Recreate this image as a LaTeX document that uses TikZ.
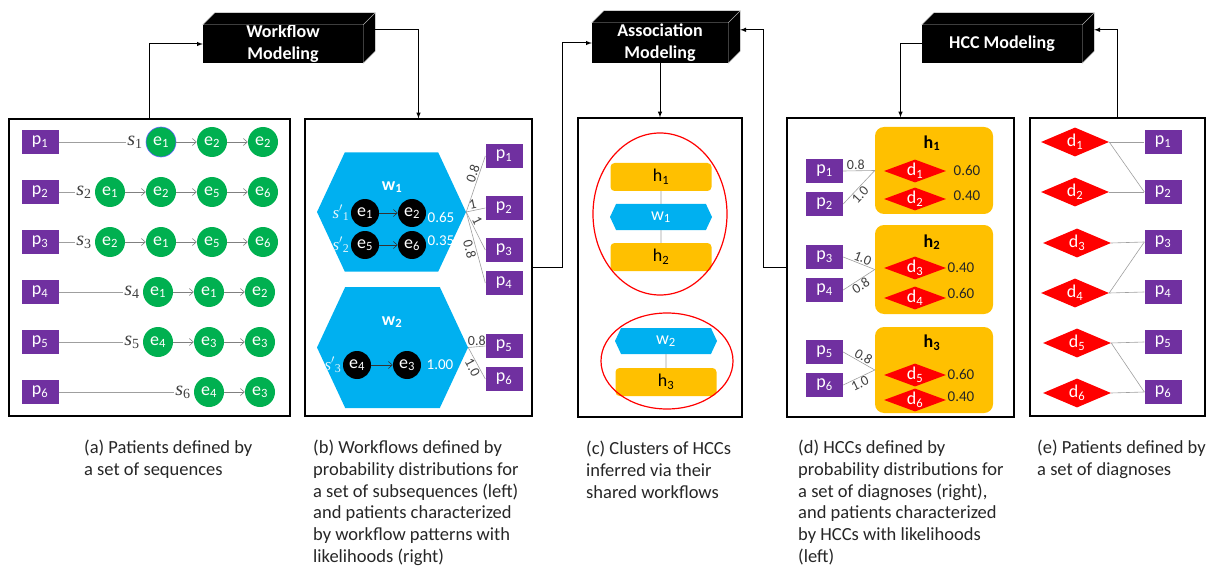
\documentclass[tikz,border=0pt]{standalone}
\usepackage{fontspec}
\setmainfont{Carlito}
\newfontfamily\seqfont{Liberation Serif}
\usepackage{tikz}
\usetikzlibrary{calc,positioning,shapes.geometric,shapes.symbols,arrows.meta}
\definecolor{ptpurple}{RGB}{112,48,160}
\definecolor{evgreen}{RGB}{0,176,80}
\definecolor{wfcyan}{RGB}{0,176,240}
\definecolor{hccgold}{RGB}{255,192,0}
\definecolor{dxred}{RGB}{255,0,0}
\definecolor{txtgray}{RGB}{64,64,64}
\newcommand{\pxfont}[1]{\fontsize{#1}{#1}\selectfont}
\newcommand{\seqname}[2]{{\seqfont\itshape #1}\textsubscript{\seqfont #2}}
\tikzset{
panel/.style={draw, line width=1.2pt, inner sep=0pt}, % the five framed panels
modelbox/.style={fill=black, text=white, minimum width=160pt, minimum height=38pt,
  inner sep=0pt, align=center, font=\fontsize{18}{22}\selectfont\bfseries},
conn/.style={->, line width=1pt},
patient/.style={fill=ptpurple, text=white, minimum width=37pt, minimum height=24pt,
  inner sep=0pt, font=\pxfont{18}},
event/.style={circle, fill=evgreen, text=white, minimum size=30pt, inner sep=0pt, font=\pxfont{18}},
subevent/.style={circle, fill=black, text=white, minimum size=28pt, inner sep=0pt, font=\pxfont{18}},
seqlabel/.style={text=txtgray, inner sep=1pt, font=\pxfont{20}},
link/.style={draw=gray!75, line width=0.6pt},
evarrow/.style={-{Straight Barb[length=4pt,width=7pt]}, draw=gray, line width=0.6pt},
subarrow/.style={-{Straight Barb[length=4pt,width=7pt]}, draw=black!80, line width=0.6pt},
flow/.style={signal, signal to=east and west, signal pointer angle=130, fill=wfcyan, inner sep=0pt},
hccbox/.style={rounded corners=9pt, fill=hccgold, inner sep=0pt, minimum width=118pt},
smallhcc/.style={rounded corners=4pt, fill=hccgold, inner sep=0pt, minimum width=101pt,
  minimum height=28pt, font=\pxfont{18}},
diag/.style={diamond, aspect=2.7, fill=dxred, text=white, inner sep=0pt, font=\pxfont{18}},
cluster/.style={ellipse, draw=dxred, line width=1.2pt},
prob/.style={text=txtgray, inner sep=1pt, font=\pxfont{14}},
caption/.style={anchor=north west, align=left, inner sep=0pt, text=black!85,
  font=\fontsize{18.5}{21.7}\selectfont}
}

\begin{document}
\begin{tikzpicture}[x=1pt,y=-1pt,node distance=51pt,on grid,>=latex]
\useasboundingbox (0,0) rectangle (1223,572);

% modeling steps
\node[modelbox] (wfm) at (283,44) {Workflow\\Modeling};
\node[modelbox, minimum width=136pt, minimum height=40pt] (asm) at (660,43) {Association\\Modeling};
\node[modelbox] (hcm) at (1002,44) {HCC Modeling};
\foreach \m in {wfm,asm,hcm}{
  \filldraw[fill=black, draw=gray!60, line width=0.4pt]
    (\m.north west) -- ++(12,-12) -- ($(\m.north east)+(12,-12)$) -- (\m.north east) -- cycle
    (\m.north east) -- ($(\m.north east)+(12,-12)$) -- ($(\m.south east)+(12,-12)$) -- (\m.south east) -- cycle;
}

% panels
\node[panel, minimum width=281pt, minimum height=297pt] (pa) at (149.5,267.5) {};
\node[panel, minimum width=227pt, minimum height=297pt] (pb) at (418.5,267.5) {};
\node[panel, minimum width=164pt, minimum height=299pt] (pc) at (660,267.5) {};
\node[panel, minimum width=227pt, minimum height=299pt] (pd) at (900.5,267.5) {};
\node[panel, minimum width=175pt, minimum height=298pt] (pe) at (1117.5,267) {};

\draw[conn] (pa.north) |- (wfm.west);
\draw[conn] ($(wfm.north east)+(12,5)$) -| (pb.north);
\draw[conn] (pb.east) -- ++(30,0) |- (asm.west);
\draw[conn] (pd.west) -- ++(-23,0) |- ($(asm.north east)+(12,7)$);
\draw[conn] (asm.south) -- (pc.north);
\draw[conn] (hcm.west) -| (pd.north);
\draw[conn] (pe.north) |- ($(hcm.north east)+(12,5)$);

% (a) patients and their sequences
\node[patient] (pa1) at (40,142) {p\textsubscript{1}};
\node[patient] (pa2) at (40,192) {p\textsubscript{2}};
\node[patient] (pa3) at (40,242) {p\textsubscript{3}};
\node[patient] (pa4) at (40,292) {p\textsubscript{4}};
\node[patient] (pa5) at (40,342) {p\textsubscript{5}};
\node[patient] (pa6) at (40,392) {p\textsubscript{6}};

\node[event, draw=blue!60, line width=0.6pt] (ea11) at (161,142) {e\textsubscript{1}};
\node[event] (ea12) [right=of ea11] {e\textsubscript{2}};
\node[event] (ea13) [right=of ea12] {e\textsubscript{2}};
\node[event] (ea21) at (110,192) {e\textsubscript{1}};
\node[event] (ea22) [right=of ea21] {e\textsubscript{2}};
\node[event] (ea23) [right=of ea22] {e\textsubscript{5}};
\node[event] (ea24) [right=of ea23] {e\textsubscript{6}};
\node[event] (ea31) at (110,242) {e\textsubscript{2}};
\node[event] (ea32) [right=of ea31] {e\textsubscript{1}};
\node[event] (ea33) [right=of ea32] {e\textsubscript{5}};
\node[event] (ea34) [right=of ea33] {e\textsubscript{6}};
\node[event] (ea41) at (158,292) {e\textsubscript{1}};
\node[event] (ea42) [right=of ea41] {e\textsubscript{1}};
\node[event] (ea43) [right=of ea42] {e\textsubscript{2}};
\node[event] (ea51) at (158,342) {e\textsubscript{4}};
\node[event] (ea52) [right=of ea51] {e\textsubscript{3}};
\node[event] (ea53) [right=of ea52] {e\textsubscript{3}};
\node[event] (ea61) at (209,392) {e\textsubscript{4}};
\node[event] (ea62) [right=of ea61] {e\textsubscript{3}};

\node[seqlabel] (sa1) [left=26pt of ea11] {\seqname{s}{1}};
\node[seqlabel] (sa2) [left=26pt of ea21] {\seqname{s}{2}};
\node[seqlabel] (sa3) [left=26pt of ea31] {\seqname{s}{3}};
\node[seqlabel] (sa4) [left=26pt of ea41] {\seqname{s}{4}};
\node[seqlabel] (sa5) [left=26pt of ea51] {\seqname{s}{5}};
\node[seqlabel] (sa6) [left=26pt of ea61] {\seqname{s}{6}};

\path[link] (pa1) edge (sa1) (pa2) edge (sa2) (pa3) edge (sa3)
            (pa4) edge (sa4) (pa5) edge (sa5) (pa6) edge (sa6);
\path[evarrow]
  (ea11) edge (ea12) (ea12) edge (ea13)
  (ea21) edge (ea22) (ea22) edge (ea23) (ea23) edge (ea24)
  (ea31) edge (ea32) (ea32) edge (ea33) (ea33) edge (ea34)
  (ea41) edge (ea42) (ea42) edge (ea43)
  (ea51) edge (ea52) (ea52) edge (ea53)
  (ea61) edge (ea62);

% (b) workflows
\node[flow, minimum width=149pt, minimum height=119pt] (w1) at (391.5,212) {};
\node[flow, minimum width=151pt, minimum height=121pt] (w2) at (392.5,347.5) {};
\node[text=white, font=\pxfont{18}\bfseries] (w1t) at (392,187) {w\textsubscript{1}};
\node[text=white, font=\pxfont{18}\bfseries] (w2t) at (392,322) {w\textsubscript{2}};
\node[subevent] (eb11) at (365,213) {e\textsubscript{1}};
\node[subevent] (eb12) at (412,213) {e\textsubscript{2}};
\node[subevent] (eb21) at (365,245) {e\textsubscript{5}};
\node[subevent] (eb22) at (412,245) {e\textsubscript{6}};
\node[subevent] (eb31) at (357,365) {e\textsubscript{4}};
\node[subevent] (eb32) at (407,365) {e\textsubscript{3}};
\node[seqlabel, text=white!90!wfcyan, font=\pxfont{17}] (sb1) at (341,213) {\seqname{s$'$}{1}};
\node[seqlabel, text=white!90!wfcyan, font=\pxfont{17}] (sb2) at (341,245) {\seqname{s$'$}{2}};
\node[seqlabel, text=white!90!wfcyan, font=\pxfont{17}] (sb3) at (333,365) {\seqname{s$'$}{3}};
\node[prob, text=white, font=\pxfont{15}] (qb1) at (441,217) {0.65};
\node[prob, text=white, font=\pxfont{15}] (qb2) at (441,241) {0.35};
\node[prob, text=white, font=\pxfont{15}] (qb3) at (440,365) {1.00};
\path[subarrow] (eb11) edge (eb12) (eb21) edge (eb22) (eb31) edge (eb32);

\node[patient] (pb1) at (504,156) {p\textsubscript{1}};
\node[patient] (pb2) at (504,208) {p\textsubscript{2}};
\node[patient] (pb3) at (504,250) {p\textsubscript{3}};
\node[patient] (pb4) at (504,283) {p\textsubscript{4}};
\node[patient] (pb5) at (504,346) {p\textsubscript{5}};
\node[patient] (pb6) at (504,379) {p\textsubscript{6}};
\draw[link] (w1.east) -- node[prob, sloped, above, pos=0.65] (lb1) {0.8} (pb1.west);
\draw[link] (w1.east) -- node[prob, sloped, above, pos=0.4] (lb2) {1} (pb2.west);
\draw[link] (w1.east) -- node[prob, sloped, above, pos=0.3] (lb3) {1} (pb3.west);
\draw[link] (w1.east) -- node[prob, sloped, below, pos=0.5] (lb4) {0.8} (pb4.west);
\draw[link] (w2.east) -- node[prob, above, pos=0.5] (lb5) {0.8} (pb5.west);
\draw[link] (w2.east) -- node[prob, sloped, below, pos=0.55] (lb6) {1.0} (pb6.west);

% (c) clusters of HCCs
\node[smallhcc] (ch1) at (661,177) {h\textsubscript{1}};
\node[flow, minimum width=102pt, minimum height=26pt, text=white, font=\pxfont{18}] (cw1) at (661,217) {w\textsubscript{1}};
\node[smallhcc] (ch2) at (661,257) {h\textsubscript{2}};
\node[flow, minimum width=102pt, minimum height=26pt, text=white, font=\pxfont{18}] (cw2) at (666,341) {w\textsubscript{2}};
\node[smallhcc] (ch3) at (666,382) {h\textsubscript{3}};
\path[link] (ch1) edge (cw1) (cw1) edge (ch2) (cw2) edge (ch3);
\node[cluster, minimum width=134pt, minimum height=162pt] (cl1) at (660,214) {};
\node[cluster, minimum width=132pt, minimum height=96pt] (cl2) at (667,361) {};

% (d) HCCs
\node[hccbox, minimum height=87pt] (hb1) at (934,170.5) {};
\node[hccbox, minimum height=89pt] (hb2) at (934,269.5) {};
\node[hccbox, minimum height=86pt] (hb3) at (934,370) {};
\node[font=\pxfont{18}\bfseries] (hb1t) at (932,143) {h\textsubscript{1}};
\node[font=\pxfont{18}\bfseries] (hb2t) at (932,242) {h\textsubscript{2}};
\node[font=\pxfont{18}\bfseries] (hb3t) at (932,343) {h\textsubscript{3}};
\node[diag, minimum width=62pt, minimum height=23pt] (dd1) at (915,171) {d\textsubscript{1}};
\node[diag, minimum width=62pt, minimum height=23pt] (dd2) at (915,199) {d\textsubscript{2}};
\node[diag, minimum width=62pt, minimum height=23pt] (dd3) at (915,268) {d\textsubscript{3}};
\node[diag, minimum width=62pt, minimum height=23pt] (dd4) at (915,298) {d\textsubscript{4}};
\node[diag, minimum width=62pt, minimum height=23pt] (dd5) at (915,375) {d\textsubscript{5}};
\node[diag, minimum width=62pt, minimum height=23pt] (dd6) at (915,400) {d\textsubscript{6}};
\node[prob, text=black!85, font=\pxfont{15}] (qd1) at (967,170) {0.60};
\node[prob, text=black!85, font=\pxfont{15}] (qd2) at (967,196) {0.40};
\node[prob, text=black!85, font=\pxfont{15}] (qd3) at (961,268) {0.40};
\node[prob, text=black!85, font=\pxfont{15}] (qd4) at (961,293) {0.60};
\node[prob, text=black!85, font=\pxfont{15}] (qd5) at (961,374) {0.60};
\node[prob, text=black!85, font=\pxfont{15}] (qd6) at (961,397) {0.40};

\node[patient] (pd1) at (824.5,171) {p\textsubscript{1}};
\node[patient] (pd2) at (824.5,204) {p\textsubscript{2}};
\node[patient] (pd3) at (824.5,257) {p\textsubscript{3}};
\node[patient] (pd4) at (824.5,290) {p\textsubscript{4}};
\node[patient] (pd5) at (824.5,352) {p\textsubscript{5}};
\node[patient] (pd6) at (824.5,385) {p\textsubscript{6}};
\draw[link] (pd1.east) -- node[prob, above, pos=0.4] (ld1) {0.8} (hb1.west);
\draw[link] (pd2.east) -- node[prob, sloped, below, pos=0.4] (ld2) {1.0} (hb1.west);
\draw[link] (pd3.east) -- node[prob, sloped, above, pos=0.55] (ld3) {1.0} (hb2.west);
\draw[link] (pd4.east) -- node[prob, sloped, below, pos=0.45] (ld4) {0.8} (hb2.west);
\draw[link] (pd5.east) -- node[prob, sloped, above, pos=0.55] (ld5) {0.8} (hb3.west);
\draw[link] (pd6.east) -- node[prob, sloped, below, pos=0.45] (ld6) {1.0} (hb3.west);

% (e) patients and their diagnoses
\node[diag, minimum width=68pt, minimum height=29pt] (de1) at (1075,142) {d\textsubscript{1}};
\node[diag, minimum width=68pt, minimum height=29pt] (de2) at (1075,192) {d\textsubscript{2}};
\node[diag, minimum width=68pt, minimum height=29pt] (de3) at (1077,243) {d\textsubscript{3}};
\node[diag, minimum width=68pt, minimum height=29pt] (de4) at (1075,293) {d\textsubscript{4}};
\node[diag, minimum width=68pt, minimum height=29pt] (de5) at (1077,343) {d\textsubscript{5}};
\node[diag, minimum width=68pt, minimum height=29pt] (de6) at (1077,393) {d\textsubscript{6}};
\node[patient] (pe1) at (1163,142) {p\textsubscript{1}};
\node[patient] (pe2) at (1163,192) {p\textsubscript{2}};
\node[patient] (pe3) at (1163,242) {p\textsubscript{3}};
\node[patient] (pe4) at (1163,292) {p\textsubscript{4}};
\node[patient] (pe5) at (1163,342) {p\textsubscript{5}};
\node[patient] (pe6) at (1163,392) {p\textsubscript{6}};
\path[link]
  (de1.east) edge (pe1.west) (de1.east) edge (pe2.west)
  (de2.east) edge (pe2.west)
  (de3.east) edge (pe3.west)
  (de4.east) edge (pe3.west) (de4.east) edge (pe4.west)
  (de5.east) edge (pe5.west) (de5.east) edge (pe6.west)
  (de6.east) edge (pe6.west);

% captions
\node[caption] (capa) at (84,440) {(a) Patients defined by\\a set of sequences};
\node[caption] (capb) at (313,440) {(b) Workflows defined by\\probability distributions for\\a set of subsequences (left)\\and patients characterized\\by workflow patterns with\\likelihoods (right)};
\node[caption] (capc) at (586,441) {(c) Clusters of HCCs\\inferred via their\\shared workflows};
\node[caption] (capd) at (798,440) {(d) HCCs defined by\\probability distributions for\\a set of diagnoses (right),\\and patients characterized\\by HCCs with likelihoods\\(left)};
\node[caption] (cape) at (1037,440) {(e) Patients defined by\\a set of diagnoses};
\end{tikzpicture}
\end{document}
